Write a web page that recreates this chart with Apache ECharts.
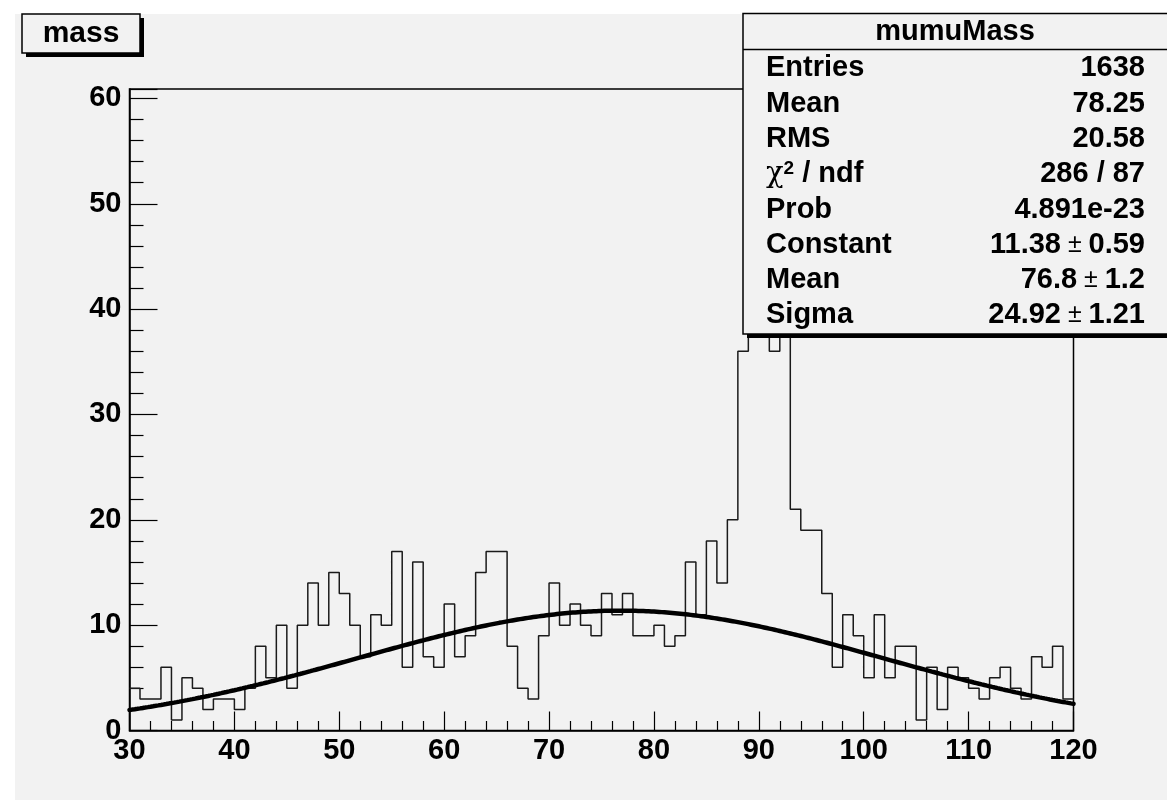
<!DOCTYPE html>
<html>
<head>
<meta charset="utf-8">
<script src="https://cdn.jsdelivr.net/npm/echarts@6/dist/echarts.min.js"></script>
<style>
  html, body { margin: 0; padding: 0; background: #ffffff; }
  #chart { width: 1167px; height: 800px; }
</style>
</head>
<body>
<div id="chart"></div>
<script>
// Histogram binning: 90 bins of width 1 from 30 to 120
const binLow = 30;
const binWidth = 1;
const binCount = 90;

// Bin contents, bins 30..119
const counts = [
  4, 3, 3, 6, 1, 5, 4, 2, 3, 3,
  2, 4, 8, 5, 10, 4, 10, 14, 10, 15,
  13, 10, 7, 11, 10, 17, 6, 16, 7, 6,
  12, 7, 9, 15, 17, 17, 8, 4, 3, 9,
  14, 10, 12, 10, 9, 13, 11, 13, 9, 9,
  10, 8, 9, 16, 11, 18, 14, 20, 36, 41,
  58, 36, 40, 21, 19, 19, 13, 6, 11, 9,
  5, 11, 5, 8, 8, 1, 6, 2, 6, 5,
  4, 3, 5, 6, 4, 3, 7, 6, 8, 3
];

// Gaussian fit parameters
const fitConstant = 11.38;
const fitMean = 76.8;
const fitSigma = 24.92;

// Axis ranges
const xMin = 30, xMax = 120, xStep = 10;
const yMin = 0, yMax = 60.9, yStep = 10;

// Statistics box
const histTitle = 'mass';
const statsTitle = 'mumuMass';
const statsLabels = ['Entries', 'Mean', 'RMS', 'χ2 / ndf', 'Prob', 'Constant', 'Mean', 'Sigma'];
const statsValues = ['1638', '78.25', '20.58', '286 / 87', '4.891e-23', '11.38 ± 0.59', '76.8 ± 1.2', '24.92 ± 1.21'];

const FONT = '"Liberation Sans", Arial, Helvetica, sans-serif';
const BG = '#f2f2f2';

// Step outline: each point is a bin's low edge, closing at the last bin's high edge
const histData = counts.map((c, i) => [binLow + i * binWidth, c]);
histData.push([binLow + binCount * binWidth, counts[counts.length - 1]]);

// Fitted Gaussian, sampled finely across the range
function gaus(x) {
  const t = (x - fitMean) / fitSigma;
  return fitConstant * Math.exp(-0.5 * t * t);
}
const fitData = [];
for (let k = 0; k <= 360; k++) {
  const x = xMin + (xMax - xMin) * k / 360;
  fitData.push([x, gaus(x)]);
}

// Stats box geometry
const boxX = 743, boxY = 13.5, boxW = 440, boxH = 320.5, headerY = 49.5;
const rowY0 = 68.3, rowDy = 35.3;
const labelX = 766, valueX = 1145;

const richStyles = {
  v: { fontFamily: FONT, fontWeight: 'bold', fontSize: 29, fill: '#000' },
  p: { fontFamily: FONT, fontWeight: 'normal', fontSize: 25, fill: '#000' },
  c: { fontFamily: '"DejaVu Serif", serif', fontWeight: 'normal', fontSize: 29, fill: '#000' },
  s: { fontFamily: FONT, fontWeight: 'bold', fontSize: 19, fill: '#000', verticalAlign: 'top', padding: [0, 0, 10, 0] }
};

function labelText(lab) {
  if (lab.indexOf('χ2') === 0) return '{c|χ}{s|2}{v|' + lab.slice(2) + '}';
  return '{v|' + lab + '}';
}
function valueText(v) {
  if (v.indexOf('±') < 0) return '{v|' + v + '}';
  const parts = v.split('±').map(s => s.trim());
  return '{v|' + parts[0] + '}{p| ± }{v|' + parts[1] + '}';
}

const graphics = [
  // canvas background
  { type: 'rect', shape: { x: 15, y: 14, width: 1152, height: 786 }, style: { fill: BG }, z: -100, silent: true },
  // histogram title box with shadow
  { type: 'rect', shape: { x: 26, y: 18, width: 118, height: 39 }, style: { fill: '#000' }, z: 100 },
  { type: 'rect', shape: { x: 22, y: 14, width: 118, height: 39 }, style: { fill: BG, stroke: '#000', lineWidth: 1.5 }, z: 101 },
  { type: 'text', x: 81, y: 34, style: { text: histTitle, fontFamily: FONT, fontWeight: 'bold', fontSize: 30, fill: '#000', align: 'center', verticalAlign: 'middle' }, z: 102 },
  // statistics box with shadow
  { type: 'rect', shape: { x: 747, y: 334, width: 430, height: 4 }, style: { fill: '#000' }, z: 100 },
  { type: 'rect', shape: { x: boxX, y: boxY, width: boxW, height: boxH }, style: { fill: BG, stroke: '#000', lineWidth: 1.5 }, z: 101 },
  { type: 'line', shape: { x1: boxX, y1: headerY, x2: 1167, y2: headerY }, style: { stroke: '#000', lineWidth: 1.5 }, z: 102 },
  { type: 'text', x: 955, y: 32, style: { text: statsTitle, fontFamily: FONT, fontWeight: 'bold', fontSize: 29, fill: '#000', align: 'center', verticalAlign: 'middle' }, z: 102 }
];

statsLabels.forEach((lab, i) => {
  const y = rowY0 + i * rowDy;
  graphics.push({ type: 'text', x: labelX, y: y, style: { text: labelText(lab), rich: richStyles, fontFamily: FONT, fontWeight: 'bold', fontSize: 29, fill: '#000', align: 'left', verticalAlign: 'middle' }, z: 102 });
  graphics.push({ type: 'text', x: valueX, y: y, style: { text: valueText(statsValues[i]), rich: richStyles, fontFamily: FONT, fontWeight: 'bold', fontSize: 29, fill: '#000', align: 'right', verticalAlign: 'middle' }, z: 102 });
});

const chart = echarts.init(document.getElementById('chart'), null, { renderer: 'canvas' });

chart.setOption({
  backgroundColor: '#ffffff',
  animation: false,
  grid: {
    left: 129.5, right: 93.5, top: 89, bottom: 69.5,
    show: true, borderColor: '#000', borderWidth: 1.5, backgroundColor: 'transparent'
  },
  xAxis: {
    type: 'value', min: xMin, max: xMax, interval: xStep,
    axisLine: { show: true, onZero: false, lineStyle: { color: '#000', width: 1.5 } },
    axisTick: { show: true, inside: true, length: 19, lineStyle: { color: '#000', width: 1.2 } },
    minorTick: { show: true, splitNumber: 5, length: 9.5, lineStyle: { color: '#000', width: 1.2 } },
    axisLabel: { show: true, margin: 6, color: '#000', fontFamily: FONT, fontWeight: 'bold', fontSize: 29 },
    splitLine: { show: false }, minorSplitLine: { show: false }
  },
  yAxis: {
    type: 'value', min: yMin, max: yMax, interval: yStep,
    axisLine: { show: true, onZero: false, lineStyle: { color: '#000', width: 1.5 } },
    axisTick: { show: true, inside: true, length: 28, lineStyle: { color: '#000', width: 1.2 } },
    minorTick: { show: true, splitNumber: 5, length: 14, lineStyle: { color: '#000', width: 1.2 } },
    axisLabel: {
      show: true, margin: 8, color: '#000', fontFamily: FONT, fontWeight: 'bold', fontSize: 29,
      formatter: v => (Math.abs(v % yStep) < 1e-9 ? String(v) : '')
    },
    splitLine: { show: false }, minorSplitLine: { show: false }
  },
  series: [
    {
      name: 'mumuMass', type: 'line', data: histData, step: 'end',
      symbol: 'none', clip: true, z: 3,
      lineStyle: { color: '#1a1a1a', width: 1.5 }
    },
    {
      name: 'gaus', type: 'line', data: fitData, smooth: false,
      symbol: 'none', clip: true, z: 4,
      lineStyle: { color: '#000', width: 4.5, cap: 'round' }
    }
  ],
  graphic: { elements: graphics }
});
</script>
</body>
</html>
